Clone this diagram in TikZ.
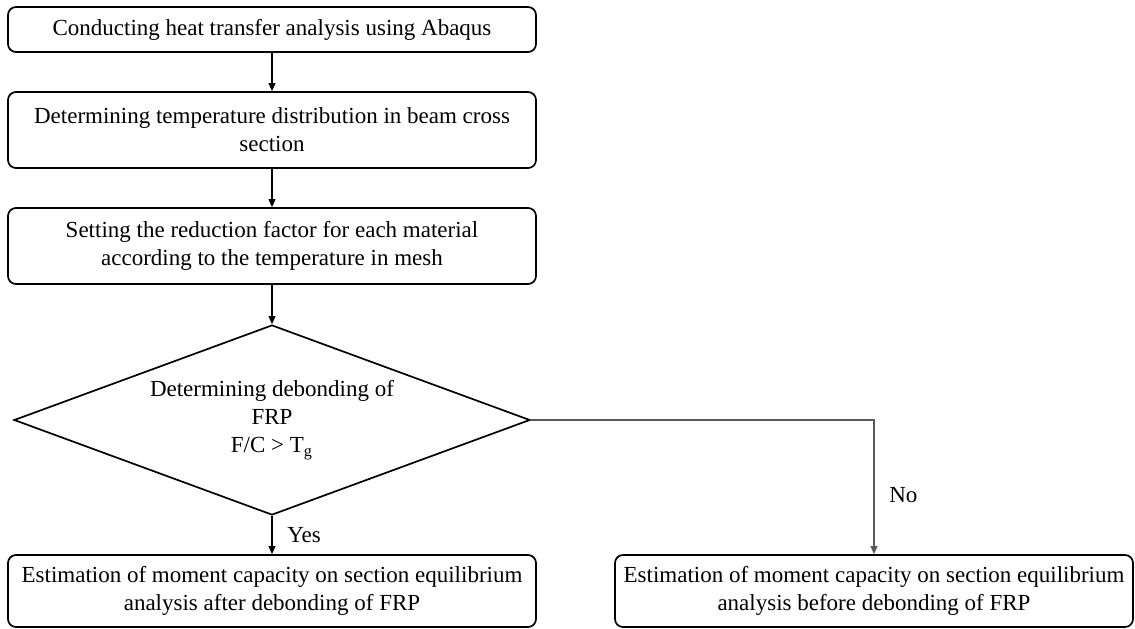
\documentclass[tikz,border=0pt]{standalone}
\usepackage{fontspec}
\setmainfont{Liberation Serif}
\usepackage{tikz}
\usetikzlibrary{arrows.meta,shapes}

\tikzset{box/.style={draw,rounded corners=4pt,line width=0.85pt,align=center,minimum width=264pt,inner sep=2pt},
dec/.style={diamond,draw,line width=0.85pt,align=center,aspect=2.7,minimum width=258pt,minimum height=95pt,inner sep=0pt},
link/.style={->,line width=0.65pt}}

\begin{document}
\begin{tikzpicture}[x=0.5pt,y=-0.5pt,>={Triangle[length=4pt,width=3.4pt]},font=\fontsize{11.5pt}{14pt}\selectfont]
\useasboundingbox(0,0)rectangle(1135,628);
\node[box,minimum height=22.5pt](heat)at(272,29.5){Conducting heat transfer analysis using Abaqus};
\node[box,minimum height=38pt](temp)at(272,130){Determining temperature distribution in beam cross\\section};
\node[box,minimum height=38pt](factor)at(272,246){Setting the reduction factor for each material\\according to the temperature in mesh};
\node[dec](debond)at(272,420){Determining debonding of\\FRP\\F/C > T\textsubscript{g}};
\node[box,minimum height=36pt](after)at(272,591){Estimation of moment capacity on section equilibrium\\analysis after debonding of FRP};
\node[box,minimum width=259pt,minimum height=36pt](before)at(874,591){Estimation of moment capacity on section equilibrium\\analysis before debonding of FRP};
\draw[link](heat)--(temp);
\draw[link](temp)--(factor);
\draw[link](factor)--(debond);
\draw[link](debond)--node[right=4pt]{Yes}(after);
\draw[link,black!65](debond.east)-|node[pos=0.78,right=4pt,black]{No}(before.north);
\end{tikzpicture}
\end{document}
